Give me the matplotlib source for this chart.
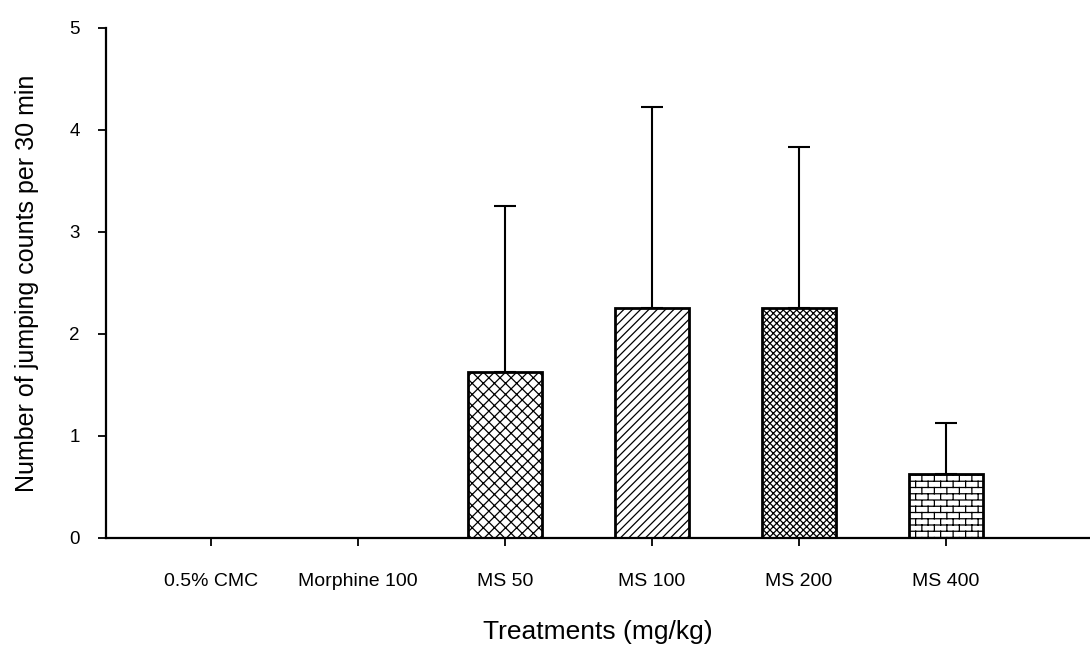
import warnings
import numpy as np
import matplotlib
matplotlib.use("Agg")
import matplotlib.pyplot as plt
from matplotlib import hatch as mhatch
from matplotlib.path import Path

warnings.filterwarnings("ignore")

treatments = ["0.5% CMC", "Morphine 100", "MS 50", "MS 100", "MS 200", "MS 400"]
mean_jumps = [0.0, 0.0, 1.625, 2.25, 2.25, 0.625]
upper_err = [0.0, 0.0, 1.625, 1.98, 1.58, 0.50]
hatches = ["", "", "xxx", "////", "xxxxx", "b"]


class BrickHatch(mhatch.HatchPatternBase):
    # brick wall pattern, SigmaPlot style; triggered by 'b' in the hatch string
    def __init__(self, hatch, density):
        self.rows = 16 if "b" in hatch else 0
        self.cols = 8
        if self.rows:
            self.num_vertices = 2 * (self.rows + 1) + 2 * self.rows * self.cols
        else:
            self.num_vertices = 0

    def set_vertices_and_codes(self, vertices, codes):
        if self.rows == 0:
            return
        n = self.rows + 1
        ys = np.arange(n) / self.rows
        vertices[0:2 * n:2, 0] = 0.0
        vertices[0:2 * n:2, 1] = ys
        vertices[1:2 * n:2, 0] = 1.0
        vertices[1:2 * n:2, 1] = ys
        i = 2 * n
        for k in range(self.rows):
            for j in range(self.cols):
                x = (j + 0.25 + 0.5 * (k % 2)) / self.cols
                vertices[i] = (x, k / self.rows)
                vertices[i + 1] = (x, (k + 1) / self.rows)
                i += 2
        codes[0::2] = Path.MOVETO
        codes[1::2] = Path.LINETO


mhatch._hatch_types.append(BrickHatch)

plt.rcParams['font.family'] = ['Liberation Sans', 'DejaVu Sans']
plt.rcParams['hatch.linewidth'] = 0.9

fig = plt.figure(figsize=(10.9, 6.48), dpi=100)
ax = fig.add_axes([0.0972, 0.1698, 0.9028, 0.787])

x = np.arange(len(treatments))
bars = ax.bar(x, mean_jumps, width=0.5, color="white", edgecolor="black",
              linewidth=2.0, zorder=2)
for b, h in zip(bars, hatches):
    b.set_hatch(h)

show = np.array(mean_jumps) > 0
ax.errorbar(x[show], np.array(mean_jumps)[show],
            yerr=[np.zeros(show.sum()), np.array(upper_err)[show]],
            fmt="none", ecolor="black", elinewidth=1.5, capsize=8,
            capthick=1.5, zorder=1)

ax.set_xlim(-0.714, 5.98)
ax.set_ylim(0, 5)
ax.set_yticks(range(6))
ax.set_xticks(x)
ax.set_xticklabels(treatments, fontsize=14)
ax.tick_params(axis="y", labelsize=13.5, direction="out", length=6, width=1.3, pad=13)
ax.tick_params(axis="x", direction="out", length=6, width=1.3, pad=19)

for s in ("top", "right"):
    ax.spines[s].set_visible(False)
for s in ("left", "bottom"):
    ax.spines[s].set_linewidth(1.6)

ax.set_xlabel("Treatments (mg/kg)", fontsize=19, labelpad=22)
ax.set_ylabel("Number of jumping counts per 30 min", fontsize=18, labelpad=22)

fig.savefig("out.png", dpi=100)
